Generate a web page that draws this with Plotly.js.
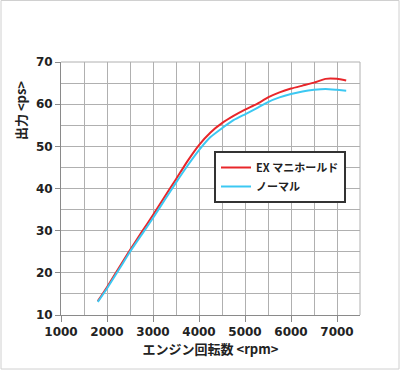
<!DOCTYPE html>
<html><head><meta charset="utf-8">
<script src="https://cdn.plot.ly/plotly-3.0.1.min.js"></script>
<style>html,body{margin:0;padding:0;background:#fff}#chart{width:400px;height:370px}</style>
</head><body><div id="chart"></div>
<script>
const rpm = [1800,2000,2250,2500,2750,3000,3250,3500,3750,4000,4250,4500,4750,5000,5250,5500,5750,6000,6250,6500,6750,7000,7200];
const exManifold = [13.3,16.6,21.0,25.4,29.6,33.7,38.0,42.2,46.5,50.3,53.3,55.5,57.2,58.7,60.0,61.6,62.8,63.7,64.4,65.1,66.0,66.0,65.6];
const normal = [13.1,16.3,20.6,25.0,29.0,33.0,37.2,41.4,45.4,49.1,52.2,54.3,56.2,57.6,59.0,60.5,61.6,62.4,63.0,63.4,63.6,63.4,63.2];
const seriesNames = ['EX マニホールド','ノーマル'];
const xTitle = 'エンジン回転数 <rpm>';
const yTitle = '出力 <ps>';

const W=400,H=370,mL=61,mR=40,mT=62,mB=55;
const pw=W-mL-mR, ph=H-mT-mB;
const fx=px=>(px-mL)/pw, fy=py=>(H-mB-py)/ph;
const tickFont={family:'DejaVu Sans, Verdana, sans-serif',size:12,color:'#222',weight:'bold'};
const cjk='Noto Sans CJK JP, sans-serif';

const traces=[
 {x:rpm,y:exManifold,name:seriesNames[0],mode:'lines',line:{color:'#e8262a',width:2,shape:'spline',smoothing:0.5}},
 {x:rpm,y:normal,name:seriesNames[1],mode:'lines',line:{color:'#3cc8f2',width:2,shape:'spline',smoothing:0.5}}
];
const grid='#b0b0b0';
const layout={
 width:W,height:H,margin:{l:mL,r:mR,t:mT,b:mB,pad:0},
 paper_bgcolor:'#fff',plot_bgcolor:'#fff',
 xaxis:{range:[1000,7500],dtick:1000,tick0:1000,showgrid:true,gridcolor:grid,gridwidth:1,
   minor:{dtick:500,showgrid:true,gridcolor:grid,gridwidth:1},
   showline:true,linecolor:'#8a8a8a',linewidth:1,ticks:'outside',ticklen:6,tickcolor:'#8a8a8a',
   tickfont:tickFont,zeroline:false,fixedrange:true,
   title:{text:xTitle,font:{family:cjk,size:13,color:'#222',weight:'bold'},standoff:3}},
 yaxis:{range:[10,70],dtick:10,tick0:10,showgrid:true,gridcolor:grid,gridwidth:1,
   minor:{dtick:5,showgrid:true,gridcolor:grid,gridwidth:1},
   showline:true,linecolor:'#8a8a8a',linewidth:1,ticks:'outside',ticklen:5,tickcolor:'#8a8a8a',
   tickfont:tickFont,zeroline:false,fixedrange:true},
 showlegend:true,
 legend:{x:fx(214),y:fy(151),xanchor:'left',yanchor:'top',bgcolor:'#fff',bordercolor:'#333',borderwidth:2,
   font:{family:cjk,size:11,color:'#222',weight:'bold'},tracegroupgap:0,itemwidth:30},
 annotations:[{text:yTitle,textangle:-90,xref:'paper',yref:'paper',x:fx(20),y:fy(111),xanchor:'center',yanchor:'middle',showarrow:false,
   font:{family:cjk,size:13,color:'#222',weight:'bold'}}],
 shapes:[
  {type:'rect',xref:'paper',yref:'paper',x0:fx(1),x1:fx(399),y0:fy(369),y1:fy(0.5),line:{color:'#d0d0d0',width:1},layer:'below'},
  {type:'line',xref:'paper',yref:'paper',x0:1,x1:1,y0:0,y1:1,line:{color:grid,width:1}},
  {type:'line',xref:'paper',yref:'paper',x0:0,x1:1,y0:1,y1:1,line:{color:grid,width:1}}
 ]
};
Plotly.newPlot('chart',traces,layout,{displayModeBar:false,staticPlot:true});
</script></body></html>
